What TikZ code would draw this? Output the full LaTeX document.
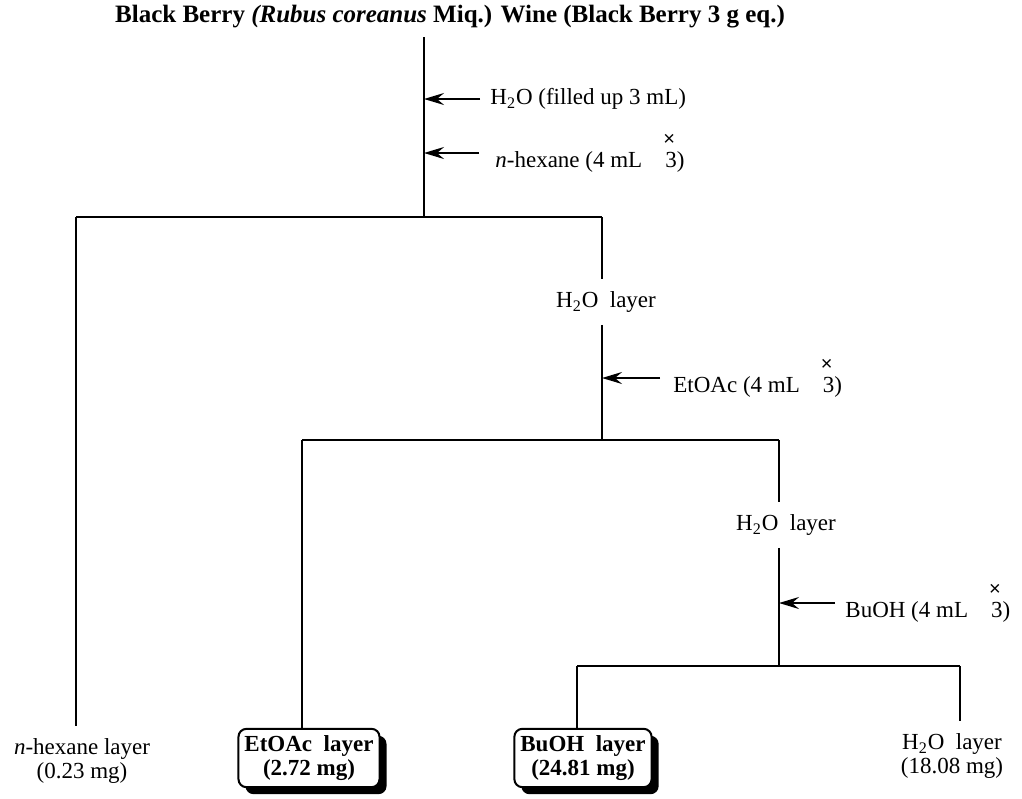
\documentclass[tikz,border=0pt]{standalone}
\usepackage{fontspec}
\setmainfont{Liberation Serif}
\setsansfont{Liberation Sans}
\usetikzlibrary{arrows.meta,shadows}

\newcommand{\water}{H\textsubscript{2}O}
\newcommand{\thrice}{\makebox[0pt][l]{\hspace{-1pt}\raisebox{0.95em}{\sffamily\fontsize{10}{10}\selectfont ×}}3}

\begin{document}
\begin{tikzpicture}[x=0.5pt, y=-0.5pt, font=\fontsize{11.5}{12}\selectfont,
  line/.style={line width=1pt},
  feed/.style={line width=1pt, -{Stealth[length=10pt,width=6pt,inset=3.5pt]}},
  lbl/.style={inner sep=0pt, anchor=west},
  mid/.style={inner xsep=0pt, inner ysep=6pt},
  frac/.style={align=center, inner xsep=0pt, inner ysep=6pt},
  keep/.style={draw, line width=1pt, rounded corners=4pt, fill=white,
               align=center, inner xsep=3pt, minimum height=28.5pt,
               font=\fontsize{11.5}{12}\selectfont\bfseries,
               drop shadow={shadow xshift=3.5pt, shadow yshift=-3.5pt,
                            fill=black, opacity=1}}
]
  \useasboundingbox (0,0) rectangle (1022,798);

  % starting material
  \node[font=\fontsize{12.5}{12}\selectfont\bfseries] (wine) at (450,17)
        {Black Berry \textit{(Rubus coreanus} Miq.) Wine (Black Berry 3 g eq.)};
  \coordinate (top)    at (424,37);
  \coordinate (split1) at (424,217);
  \coordinate (left1)  at (76,217);
  \coordinate (right1) at (602,217);

  % n-hexane partition
  \node[lbl] (addwater) at (490,99)  {\water\ (filled up 3 mL)};
  \node[lbl] (addhex)   at (495,153) {\textit{n}-hexane (4 mL\quad\thrice)};
  \draw[line] (top) -- (split1);
  \draw[feed] ([xshift=-5pt]addwater.west) -- (addwater.west -| top);
  \draw[feed] ([xshift=-8pt]addhex.west) -- (addhex.west -| top);
  \draw[line] (left1) -- (right1);

  \node[frac] (hexane) at (82,761) {\textit{n}-hexane layer\\(0.23 mg)};
  \node[mid]  (water1) at (606,302) {\water\ \ layer};
  \draw[line] (left1) -- (left1 |- hexane.north);
  \draw[line] (right1) -- (right1 |- water1.north);

  % EtOAc partition
  \coordinate (split2) at (602,440);
  \coordinate (left2)  at (302,440);
  \coordinate (right2) at (779,440);
  \node[lbl] (addetoac) at (673,378) {EtOAc (4 mL\quad\thrice)};
  \draw[line] (right1 |- water1.south) -- (split2);
  \draw[feed] ([xshift=-6.5pt]addetoac.west) -- (addetoac.west -| split2);
  \draw[line] (left2) -- (right2);

  \node[keep] (etoac)  at (309,758) {EtOAc\ \ layer\\(2.72 mg)};
  \node[mid]  (water2) at (786,525) {\water\ \ layer};
  \draw[line] (left2) -- (left2 |- etoac.north);
  \draw[line] (right2) -- (right2 |- water2.north);

  % BuOH partition
  \coordinate (split3) at (779,666);
  \coordinate (left3)  at (577,666);
  \coordinate (right3) at (960,666);
  \node[lbl] (addbuoh) at (845,603) {BuOH (4 mL\quad\thrice)};
  \draw[line] (right2 |- water2.south) -- (split3);
  \draw[feed] ([xshift=-5pt]addbuoh.west) -- (addbuoh.west -| split3);
  \draw[line] (left3) -- (right3);

  \node[keep] (buoh)   at (583,758) {BuOH\ \ layer\\(24.81 mg)};
  \node[frac] (water3) at (952,756) {\water\ \ layer\\(18.08 mg)};
  \draw[line] (left3) -- (left3 |- buoh.north);
  \draw[line] (right3) -- (right3 |- water3.north);
\end{tikzpicture}
\end{document}
